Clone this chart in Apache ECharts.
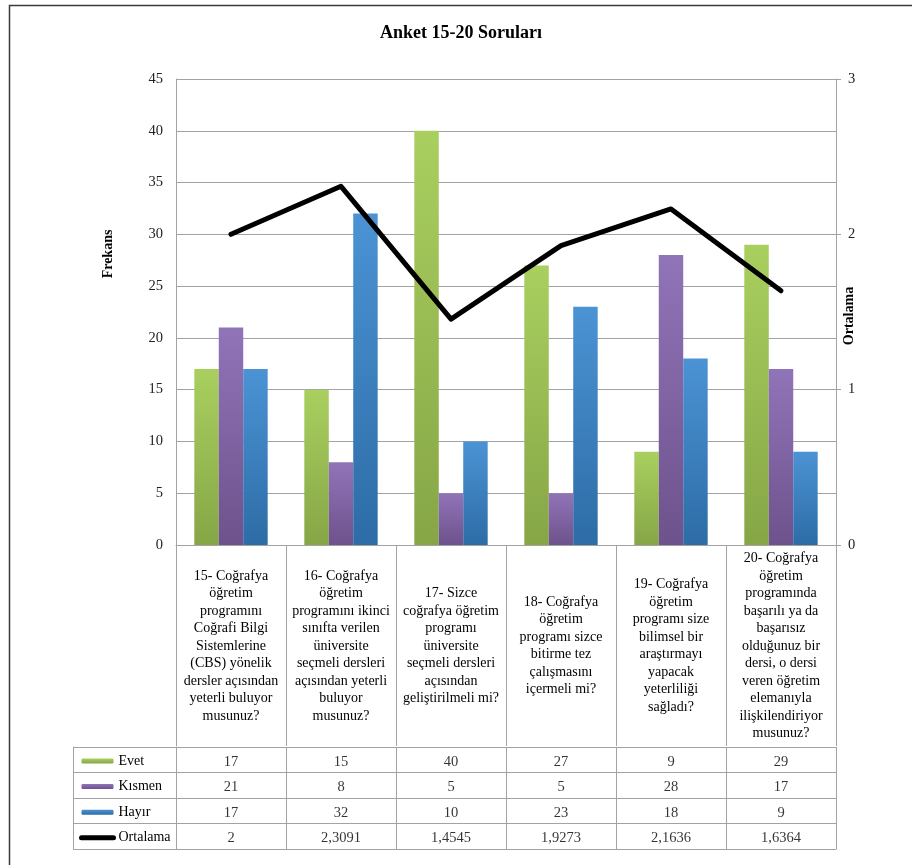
<!DOCTYPE html>
<html>
<head>
<meta charset="utf-8">
<style>
  html, body { margin: 0; padding: 0; background: #fff; }
  #chart { width: 912px; height: 865px; }
</style>
<script src="https://cdn.jsdelivr.net/npm/echarts@6/dist/echarts.min.js"></script>
</head>
<body>
<div id="chart"></div>
<script>
// Survey questions (line breaks as printed under each column)
const categories = [
  '15- Coğrafya\nöğretim\nprogramını\nCoğrafi Bilgi\nSistemlerine\n(CBS) yönelik\ndersler açısından\nyeterli buluyor\nmusunuz?',
  '16- Coğrafya\nöğretim\nprogramını ikinci\nsınıfta verilen\nüniversite\nseçmeli dersleri\naçısından yeterli\nbuluyor\nmusunuz?',
  '17- Sizce\ncoğrafya öğretim\nprogramı\nüniversite\nseçmeli dersleri\naçısından\ngeliştirilmeli mi?',
  '18- Coğrafya\nöğretim\nprogramı sizce\nbitirme tez\nçalışmasını\niçermeli mi?',
  '19- Coğrafya\nöğretim\nprogramı size\nbilimsel bir\naraştırmayı\nyapacak\nyeterliliği\nsağladı?',
  '20- Coğrafya\nöğretim\nprogramında\nbaşarılı ya da\nbaşarısız\nolduğunuz bir\ndersi, o dersi\nveren öğretim\nelemanıyla\nilişkilendiriyor\nmusunuz?'
];
const evet     = [17, 15, 40, 27, 9, 29];
const kismen   = [21, 8, 5, 5, 28, 17];
const hayir    = [17, 32, 10, 23, 18, 9];
const ortalama = [2, 2.3091, 1.4545, 1.9273, 2.1636, 1.6364];
const rowNames = ['Evet', 'Kısmen', 'Hayır', 'Ortalama'];
const frequencyTicks = { min: 0, max: 45, interval: 5 };
const meanTicks = { min: 0, max: 3, interval: 1 };

const FONT = '"Liberation Serif", "Times New Roman", serif';
const GRID_LINE = '#a3a3a3';

function grad(top, bottom) {
  return { type: 'linear', x: 0, y: 0, x2: 0, y2: 1,
    colorStops: [{ offset: 0, color: top }, { offset: 1, color: bottom }] };
}
const colEvet = grad('#a9cf5f', '#86a646');
const colKismen = grad('#9074b8', '#6e528c');
const colHayir = grad('#4b93d4', '#2d6ca6');

// Data table cells: one point per (question, row) on the table grid
const rows = [evet, kismen, hayir, ortalama];
const tableCells = [];
rows.forEach((vals, r) => {
  vals.forEach((v, i) => {
    tableCells.push([i, r, String(v).replace('.', ',')]);
  });
});

const chart = echarts.init(document.getElementById('chart'), null, { renderer: 'canvas' });

chart.setOption({
  backgroundColor: '#fff',
  animation: false,
  textStyle: { fontFamily: FONT, color: '#000' },
  title: {
    text: 'Anket 15-20 Soruları',
    left: 380, top: 24, padding: 0,
    textStyle: { fontFamily: FONT, fontSize: 18, fontWeight: 'bold', color: '#000' }
  },
  legend: {
    orient: 'vertical',
    left: 79, top: 753, padding: 0,
    itemWidth: 32, itemHeight: 5, itemGap: 9.6,
    selectedMode: false,
    textStyle: { fontFamily: FONT, fontSize: 14, lineHeight: 16, color: '#000' },
    data: [
      { name: 'Evet' },
      { name: 'Kısmen' },
      { name: 'Hayır' },
      { name: 'Ortalama', lineStyle: { width: 5, cap: 'round', color: '#000' } }
    ]
  },
  graphic: [
    { type: 'polyline', silent: true,
      shape: { points: [[9.5, 900], [9.5, 5.5], [920, 5.5]] },
      style: { stroke: '#3a3a3a', lineWidth: 1.5, fill: null } }
  ],
  grid: [
    { left: 176, right: 76, top: 79, bottom: 320 },
    { left: 176, right: 76, top: 747, height: 102 }
  ],
  xAxis: [
    {
      type: 'category', gridIndex: 0, data: categories,
      axisLine: { lineStyle: { color: GRID_LINE } },
      axisTick: { show: true, interval: 0, length: 201, alignWithLabel: false,
        lineStyle: { color: GRID_LINE } },
      axisLabel: { interval: 0, margin: 101, verticalAlign: 'middle', align: 'center',
        fontFamily: FONT, fontSize: 14, lineHeight: 17.5, color: '#000' }
    },
    {
      type: 'category', gridIndex: 1, data: categories,
      axisLine: { show: true, lineStyle: { color: GRID_LINE } },
      axisTick: { show: false },
      axisLabel: { show: false },
      splitLine: { show: true, interval: 0, lineStyle: { color: GRID_LINE } }
    }
  ],
  yAxis: [
    {
      type: 'value', gridIndex: 0,
      min: frequencyTicks.min, max: frequencyTicks.max, interval: frequencyTicks.interval,
      name: 'Frekans', nameLocation: 'middle', nameGap: 61, nameRotate: 90,
      nameMoveOverlap: false,
      nameTextStyle: { fontFamily: FONT, fontSize: 14, fontWeight: 'bold', color: '#000',
        padding: [0, 0, 0, 116] },
      axisLine: { show: true, lineStyle: { color: GRID_LINE } },
      axisTick: { show: false },
      axisLabel: { margin: 13, fontFamily: FONT, fontSize: 14.5, color: '#222' },
      splitLine: { show: true, lineStyle: { color: GRID_LINE } }
    },
    {
      type: 'value', gridIndex: 0, position: 'right',
      min: meanTicks.min, max: meanTicks.max, interval: meanTicks.interval,
      name: 'Ortalama', nameLocation: 'middle', nameGap: 6, nameRotate: 90,
      nameMoveOverlap: false,
      nameTextStyle: { fontFamily: FONT, fontSize: 14, fontWeight: 'bold', color: '#000',
        padding: [0, 8, 0, 0] },
      axisLine: { show: true, lineStyle: { color: GRID_LINE } },
      axisTick: { show: true, length: 5, lineStyle: { color: GRID_LINE } },
      axisLabel: { margin: 12, fontFamily: FONT, fontSize: 14.5, color: '#222' },
      splitLine: { show: false }
    },
    {
      type: 'category', gridIndex: 1, data: rowNames, inverse: true,
      axisLine: { show: true, lineStyle: { color: GRID_LINE } },
      axisTick: { show: true, interval: 0, length: 103, lineStyle: { color: GRID_LINE } },
      axisLabel: { show: false },
      splitLine: { show: true, interval: 0, lineStyle: { color: GRID_LINE } }
    },
    {
      type: 'value', gridIndex: 1, position: 'left', offset: 103,
      axisLine: { show: true, onZero: false, lineStyle: { color: GRID_LINE } },
      axisTick: { show: false }, axisLabel: { show: false }, splitLine: { show: false }
    }
  ],
  series: [
    { name: 'Evet', type: 'bar', data: evet, barGap: '0%', barCategoryGap: '33.3%',
      itemStyle: { color: colEvet } },
    { name: 'Kısmen', type: 'bar', data: kismen, barGap: '0%', barCategoryGap: '33.3%',
      itemStyle: { color: colKismen } },
    { name: 'Hayır', type: 'bar', data: hayir, barGap: '0%', barCategoryGap: '33.3%',
      itemStyle: { color: colHayir } },
    { name: 'Ortalama', type: 'line', yAxisIndex: 1, data: ortalama, symbol: 'none',
      lineStyle: { color: '#000', width: 5, cap: 'round', join: 'round' },
      itemStyle: { color: '#000' }, z: 5 },
    { name: 'tablo', type: 'scatter', xAxisIndex: 1, yAxisIndex: 2, data: tableCells,
      symbolSize: 0, silent: true,
      label: { show: true, position: 'inside', offset: [0, 2], formatter: p => p.value[2],
        fontFamily: FONT, fontSize: 14.5, color: '#000' } }
  ]
});
</script>
</body>
</html>
